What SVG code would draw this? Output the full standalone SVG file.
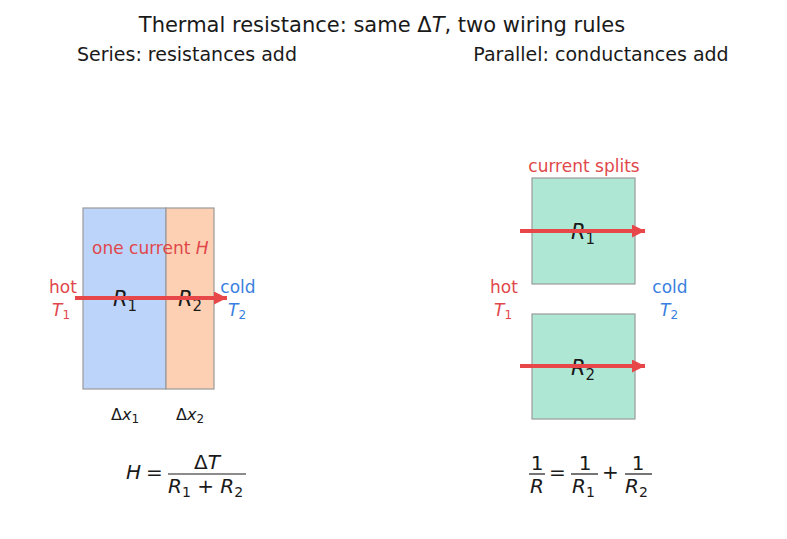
<svg xmlns="http://www.w3.org/2000/svg" width="787" height="539" viewBox="0 0 787 539">
  <style>
    text { font-family: "DejaVu Sans", "Liberation Sans", sans-serif; fill: #1a1a1a; }
    .title { font-size: 21px; }
    .sub { font-size: 19px; }
    .hot { fill: #e0474b; font-size: 17px; }
    .cold { fill: #3a7fe0; font-size: 17px; }
    .m { font-size: 20px; }
    .it { font-style: italic; }
    .box { stroke: #9a9a9a; stroke-width: 1.2; }
    .flow { stroke: #e8474a; stroke-width: 4; fill: none; }
  </style>
  <defs>
    <marker id="head" viewBox="0 0 13 13" refX="13" refY="6.5" markerWidth="13" markerHeight="13" markerUnits="userSpaceOnUse" orient="auto">
      <path d="M0,0 L13,6.5 L0,13 Z" fill="#e8474a"/>
    </marker>
  </defs>

  <rect width="787" height="539" fill="#ffffff"/>

  <text class="title" x="382" y="32" text-anchor="middle">Thermal resistance: same Δ<tspan class="it">T</tspan>, two wiring rules</text>
  <text class="sub" x="187" y="61" text-anchor="middle">Series: resistances add</text>
  <text class="sub" x="601" y="61" text-anchor="middle">Parallel: conductances add</text>

  <!-- series slabs -->
  <g id="slab-r1">
    <rect class="box" x="83" y="208" width="83" height="181" fill="#bcd4fa"/>
    <text class="it" font-size="21" x="125" y="306" text-anchor="middle">R<tspan font-style="normal" font-size="15" dy="5">1</tspan></text>
  </g>
  <g id="slab-r2">
    <rect class="box" x="166" y="208" width="48" height="181" fill="#fdd0b3"/>
    <text class="it" font-size="21" x="190" y="306" text-anchor="middle">R<tspan font-style="normal" font-size="15" dy="5">2</tspan></text>
  </g>
  <text class="hot" x="92" y="254">one current <tspan class="it">H</tspan></text>
  <text class="hot" x="63" y="293" text-anchor="middle">hot</text>
  <text class="hot it" x="61" y="316" text-anchor="middle">T<tspan font-style="normal" font-size="12" dy="3">1</tspan></text>
  <text class="cold" x="238" y="293" text-anchor="middle">cold</text>
  <text class="cold it" x="237" y="316" text-anchor="middle">T<tspan font-style="normal" font-size="12" dy="3">2</tspan></text>
  <text x="125" y="420" font-size="16" text-anchor="middle">Δ<tspan class="it">x</tspan><tspan font-size="12" dy="3">1</tspan></text>
  <text x="190" y="420" font-size="16" text-anchor="middle">Δ<tspan class="it">x</tspan><tspan font-size="12" dy="3">2</tspan></text>

  <!-- parallel slabs -->
  <g id="slab-p1">
    <rect class="box" x="532" y="178" width="103" height="106" fill="#aee8d5"/>
    <text class="it" font-size="21" x="583" y="239" text-anchor="middle">R<tspan font-style="normal" font-size="15" dy="5">1</tspan></text>
  </g>
  <g id="slab-p2">
    <rect class="box" x="532" y="314" width="103" height="105" fill="#aee8d5"/>
    <text class="it" font-size="21" x="583" y="375" text-anchor="middle">R<tspan font-style="normal" font-size="15" dy="5">2</tspan></text>
  </g>
  <text class="hot" x="584" y="172" text-anchor="middle">current splits</text>
  <text class="hot" x="504" y="293" text-anchor="middle">hot</text>
  <text class="hot it" x="503" y="316" text-anchor="middle">T<tspan font-style="normal" font-size="12" dy="3">1</tspan></text>
  <text class="cold" x="670" y="293" text-anchor="middle">cold</text>
  <text class="cold it" x="669" y="316" text-anchor="middle">T<tspan font-style="normal" font-size="12" dy="3">2</tspan></text>

  <!-- heat flow arrows -->
  <g id="connectors">
    <line class="flow" x1="75" y1="298" x2="227" y2="298" marker-end="url(#head)"/>
    <line class="flow" x1="520" y1="231" x2="645" y2="231" marker-end="url(#head)"/>
    <line class="flow" x1="520" y1="366" x2="645" y2="366" marker-end="url(#head)"/>
  </g>

  <!-- series formula -->
  <g id="formula-series">
    <text class="m it" x="126" y="479">H</text>
    <text class="m" x="146" y="479">=</text>
    <text class="m" x="207" y="469" text-anchor="middle">Δ<tspan class="it">T</tspan></text>
    <line x1="168" y1="474" x2="246" y2="474" stroke="#1a1a1a" stroke-width="1.2"/>
    <text class="m" x="168" y="493"><tspan class="it">R</tspan><tspan font-size="14" dy="4">1</tspan><tspan dy="-4"> + </tspan><tspan class="it">R</tspan><tspan font-size="14" dy="4">2</tspan></text>
  </g>

  <!-- parallel formula -->
  <g id="formula-parallel">
    <text class="m" x="537" y="470" text-anchor="middle">1</text>
    <line x1="529" y1="474" x2="545" y2="474" stroke="#1a1a1a" stroke-width="1.2"/>
    <text class="m it" x="537" y="493" text-anchor="middle">R</text>
    <text class="m" x="549" y="479">=</text>
    <text class="m" x="585" y="470" text-anchor="middle">1</text>
    <line x1="571" y1="474" x2="598" y2="474" stroke="#1a1a1a" stroke-width="1.2"/>
    <text class="m" x="572" y="493"><tspan class="it">R</tspan><tspan font-size="14" dy="4">1</tspan></text>
    <text class="m" x="602" y="479">+</text>
    <text class="m" x="638" y="470" text-anchor="middle">1</text>
    <line x1="625" y1="474" x2="652" y2="474" stroke="#1a1a1a" stroke-width="1.2"/>
    <text class="m" x="625" y="493"><tspan class="it">R</tspan><tspan font-size="14" dy="4">2</tspan></text>
  </g>
</svg>
